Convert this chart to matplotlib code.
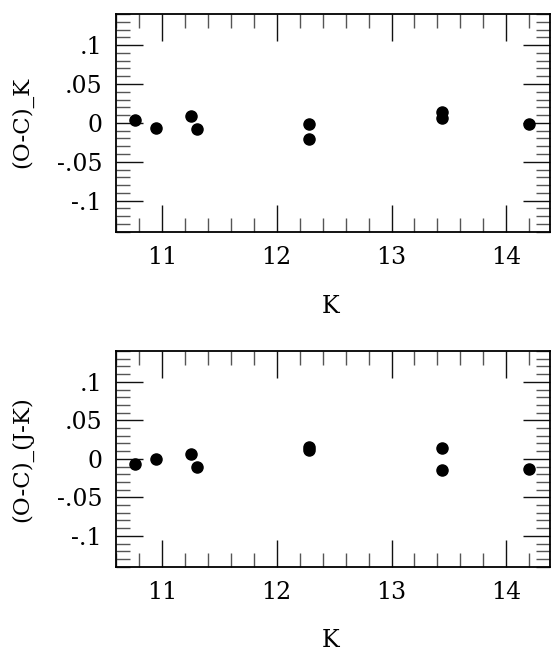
import matplotlib
matplotlib.use("Agg")
import matplotlib.pyplot as plt
from matplotlib.ticker import MultipleLocator, FixedLocator, FixedFormatter

plt.rcParams['font.family'] = ['DejaVu Serif']

k_mag = [10.77, 10.95, 11.25, 11.31, 12.28, 12.28, 13.44, 13.44, 14.20]
oc_k = [0.0035, -0.0064, 0.009, -0.0085, -0.0013, -0.0205, 0.014, 0.0064, -0.0013]
k_mag_jk = [10.77, 10.95, 11.25, 11.31, 12.28, 12.28, 13.44, 13.44, 14.20]
oc_jk = [-0.007, 0.000, 0.006, -0.010, 0.015, 0.011, 0.014, -0.014, -0.013]

y_ticks = [-0.1, -0.05, 0, 0.05, 0.1]
y_ticklabels = ['-.1', '-.05', '0', '.05', '.1']
x_ticks = [11, 12, 13, 14]
x_ticklabels = ['11', '12', '13', '14']

fig = plt.figure(figsize=(5.6, 6.54), dpi=100)

panels = [
    (k_mag, oc_k, '(O-C)_K', [0.2071, 0.6457, 0.775, 0.3329]),
    (k_mag_jk, oc_jk, '(O-C)_(J-K)', [0.2071, 0.1335, 0.775, 0.3298]),
]

for xs, ys, ylab, rect in panels:
    ax = fig.add_axes(rect)
    ax.plot(xs, ys, 'o', color='black', markersize=8, linestyle='none')
    ax.set_xlim(10.6, 14.38)
    ax.set_ylim(-0.14, 0.14)
    ax.xaxis.set_major_locator(FixedLocator(x_ticks))
    ax.xaxis.set_major_formatter(FixedFormatter(x_ticklabels))
    ax.xaxis.set_minor_locator(MultipleLocator(0.2))
    ax.yaxis.set_major_locator(FixedLocator(y_ticks))
    ax.yaxis.set_major_formatter(FixedFormatter(y_ticklabels))
    ax.yaxis.set_minor_locator(MultipleLocator(0.01))
    ax.tick_params(which='both', direction='in', top=True, right=True,
                   labelsize=17)
    ax.tick_params(which='major', length=19.5, width=1.0, color='#111111')
    ax.tick_params(which='minor', length=9.8, width=1.0, color='#555555')
    ax.tick_params(axis='x', which='major', pad=10)
    ax.tick_params(axis='y', which='major', pad=10)
    for s in ax.spines.values():
        s.set_linewidth(1.3)
    ax.set_xlabel('K', fontsize=17)
    ax.xaxis.set_label_coords(0.495, -0.29)
    ax.set_ylabel(ylab, fontsize=16.5)
    ax.yaxis.set_label_coords(-0.19, 0.5)

fig.savefig('out.png', dpi=100)
